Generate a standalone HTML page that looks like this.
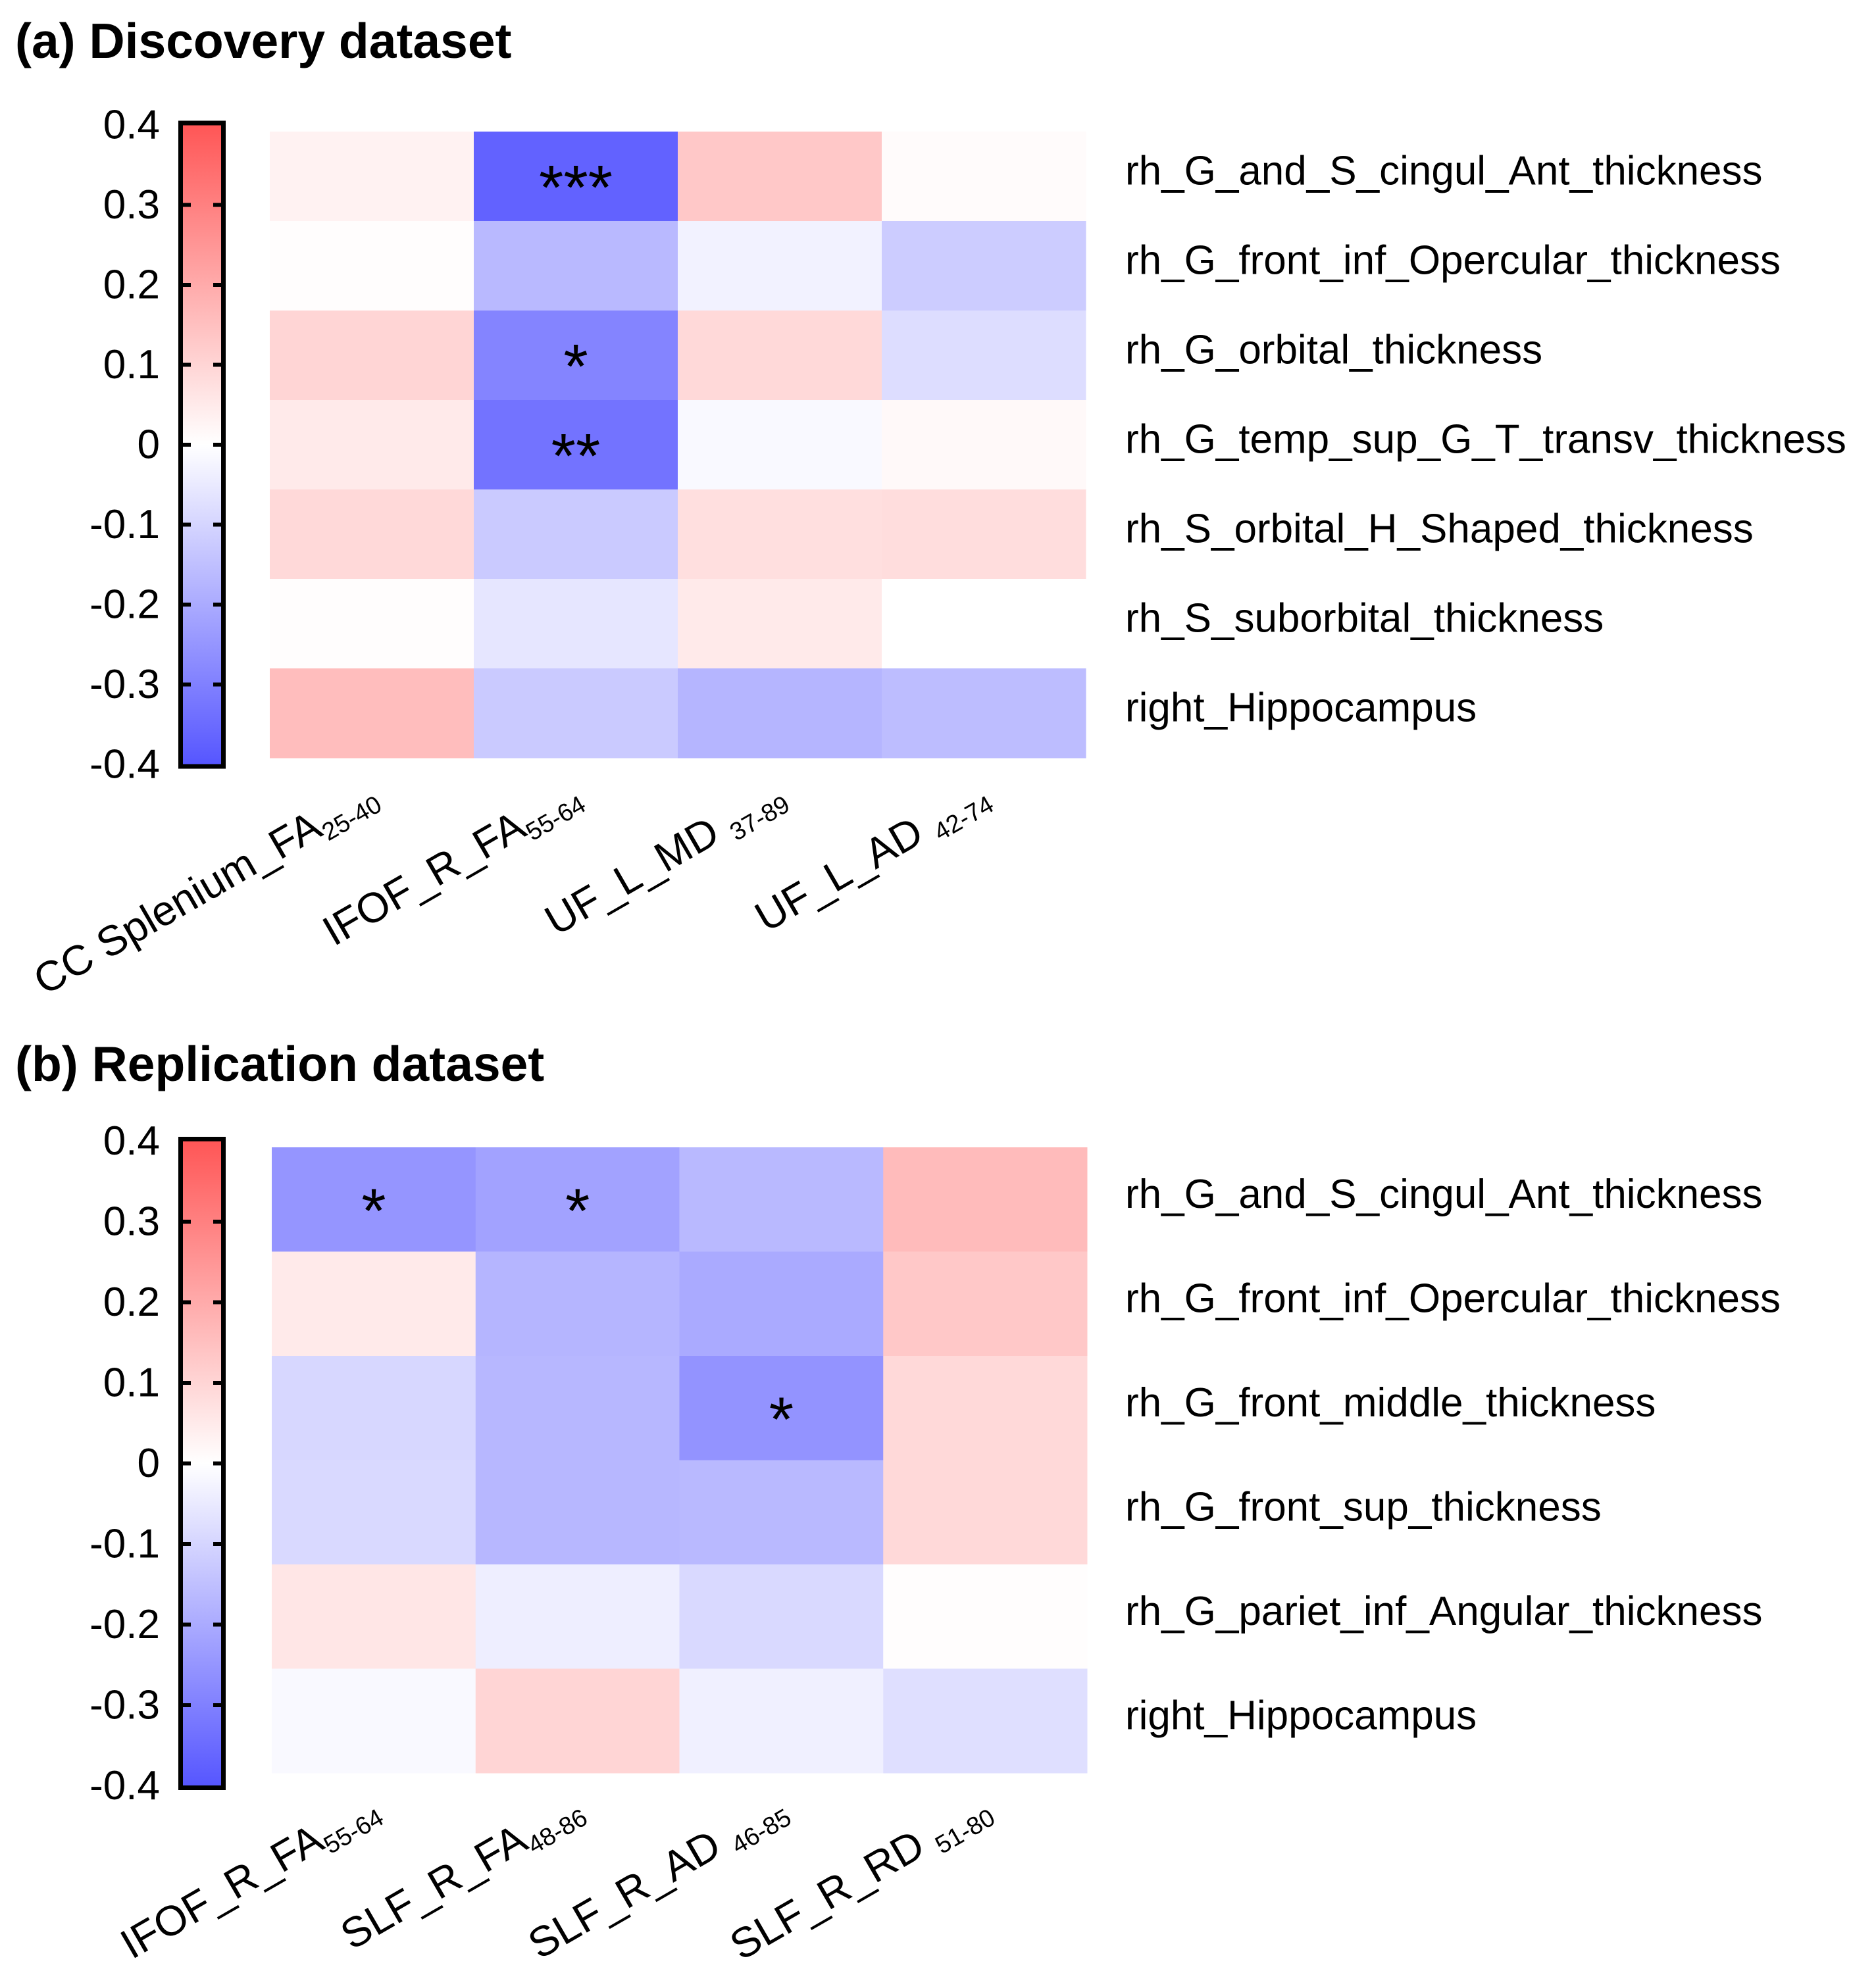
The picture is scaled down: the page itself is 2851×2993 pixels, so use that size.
<!DOCTYPE html>
<html><head><meta charset="utf-8"><style>
html,body{margin:0;padding:0;background:#fff;}
svg{display:block;font-family:"Liberation Sans",Arial,sans-serif;}
</style></head><body>
<svg id="fig" width="2851" height="2993" viewBox="0 0 2851 2993" xmlns="http://www.w3.org/2000/svg">
<defs>
<linearGradient id="cbar" x1="0" y1="0" x2="0" y2="1">
<stop offset="0" stop-color="#ff5555"/><stop offset="0.5" stop-color="#ffffff"/><stop offset="1" stop-color="#5555ff"/>
</linearGradient>
</defs>
<text x="23" y="88" font-size="75" font-weight="bold">(a) Discovery dataset</text>
<text x="23" y="1643" font-size="75" font-weight="bold">(b) Replication dataset</text>
<g id="pa"></g>
<g id="pb"></g>
</svg>
<script>
const ticks = [0.4,0.3,0.2,0.1,0,-0.1,-0.2,-0.3,-0.4];
const tickLabels = ["0.4","0.3","0.2","0.1","0","-0.1","-0.2","-0.3","-0.4"];

const aCols = [["CC Splenium_FA","25-40",""],["IFOF_R_FA","55-64",""],["UF_L_MD","37-89"," "],["UF_L_AD","42-74"," "]];
const aRows = ["rh_G_and_S_cingul_Ant_thickness","rh_G_front_inf_Opercular_thickness","rh_G_orbital_thickness","rh_G_temp_sup_G_T_transv_thickness","rh_S_orbital_H_Shaped_thickness","rh_S_suborbital_thickness","right_Hippocampus"];
const aVals = [
 [0.03,-0.37,0.13,0.01],
 [0.005,-0.165,-0.03,-0.12],
 [0.10,-0.29,0.09,-0.08],
 [0.05,-0.33,-0.015,0.015],
 [0.09,-0.125,0.075,0.08],
 [0.005,-0.06,0.05,0.0],
 [0.155,-0.125,-0.175,-0.155]
];
const aStars = [["","***","",""],["","","",""],["","*","",""],["","**","",""],["","","",""],["","","",""],["","","",""]];

const bCols = [["IFOF_R_FA","55-64",""],["SLF_R_FA","48-86",""],["SLF_R_AD","46-85"," "],["SLF_R_RD","51-80"," "]];
const bRows = ["rh_G_and_S_cingul_Ant_thickness","rh_G_front_inf_Opercular_thickness","rh_G_front_middle_thickness","rh_G_front_sup_thickness","rh_G_pariet_inf_Angular_thickness","right_Hippocampus"];
const bVals = [
 [-0.25,-0.22,-0.165,0.16],
 [0.05,-0.175,-0.2,0.13],
 [-0.095,-0.17,-0.255,0.09],
 [-0.09,-0.17,-0.165,0.09],
 [0.06,-0.04,-0.09,0.005],
 [-0.015,0.1,-0.035,-0.075]
];
const bStars = [["*","*","",""],["","","",""],["","","*",""],["","","",""],["","","",""],["","","",""]];

const NS="http://www.w3.org/2000/svg";
function mk(p,tag,at){const e=document.createElementNS(NS,tag);for(const k in at)e.setAttribute(k,at[k]);p.appendChild(e);return e;}
function color(v){const t=Math.min(1,Math.abs(v)/0.4);const c=Math.round(255-170*t);return v>=0?`rgb(255,${c},${c})`:`rgb(${c},${c},255)`;}

function panel(g,cfg,cols,rows,vals,stars){
  const cbTop=cfg.cbTop, cbBot=cfg.cbBot;
  const yv=v=>cbTop+(0.4-v)/0.8*(cbBot-cbTop);
  const cb=mk(g,'rect',{x:274.5,y:cbTop-3,width:65,height:cbBot-cbTop+6,fill:'url(#cbar)',stroke:'#000','stroke-width':7});
  
  
  ticks.forEach((t,i)=>{
    const y=yv(t);
    if(i>0&&i<ticks.length-1){
      mk(g,'line',{x1:278,x2:290,y1:y,y2:y,stroke:'#000','stroke-width':6});
      mk(g,'line',{x1:324,x2:336,y1:y,y2:y,stroke:'#000','stroke-width':6});
    }
    const tx=mk(g,'text',{x:243,y:y,'font-size':62,'text-anchor':'end','dominant-baseline':'central'});
    tx.textContent=tickLabels[i];
    
    
  });
  const cw=(cfg.x1-cfg.x0)/cols.length, rh=(cfg.y1-cfg.y0)/rows.length;
  rows.forEach((r,i)=>{
    cols.forEach((c,j)=>{
      const x=cfg.x0+j*cw, y=cfg.y0+i*rh;
      const rc=mk(g,'rect',{x:x,y:y,width:cw+0.5,height:rh+0.5,fill:color(vals[i][j])});
      
      
      if(stars[i][j]){
        const s=mk(g,'text',{x:x+cw/2,y:y+rh/2+50,'font-size':96,'text-anchor':'middle','letter-spacing':'0'});
        s.textContent=stars[i][j];
        
        
      }
    });
    const lt=mk(g,'text',{x:1710,y:cfg.y0+(i+0.5)*rh-8,'font-size':62,'dominant-baseline':'central'});
    lt.textContent=r;
    
    
  });
  cols.forEach((c,j)=>{
    const cx=cfg.x0+(j+0.5)*cw+12, cy=cfg.labY;
    const t=mk(g,'text',{x:cx,y:cy,'font-size':64,'text-anchor':'end',transform:`rotate(-30 ${cx} ${cy})`});
    
    
    const a=mk(t,'tspan',{});a.textContent=c[0]+c[2];
    const b=mk(t,'tspan',{'font-size':38,dy:12});b.textContent=c[1];
  });
}
panel(document.getElementById('pa'),{cbTop:190,cbBot:1162,x0:410,x1:1650,y0:200,y1:1152,labY:1220},aCols,aRows,aVals,aStars);
panel(document.getElementById('pb'),{cbTop:1734.5,cbBot:2714.5,x0:413,x1:1652,y0:1744,y1:2695,labY:2760},bCols,bRows,bVals,bStars);
</script>
</body></html>
